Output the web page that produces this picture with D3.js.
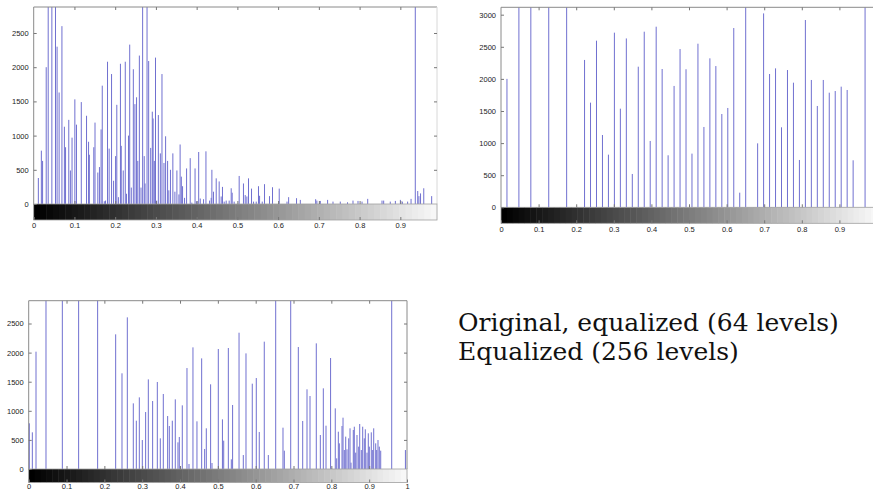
<!DOCTYPE html>
<html>
<head>
<meta charset="utf-8">
<script src="https://cdn.jsdelivr.net/npm/d3@7/dist/d3.min.js"></script>
<style>
  html, body { margin: 0; padding: 0; background: #fff; }
  svg { display: block; }
  .tick text { font-family: "Liberation Sans", Arial, sans-serif; font-size: 7.5px; fill: #222; }
  .tick line { stroke: #777; }
  .domain { display: none; }
</style>
</head>
<body>
<svg id="chart" width="873" height="491"></svg>
<script>
// ---------- DATA ----------
// Panel 1: original image histogram (gray level, pixel count)
const origLevels = [0.0114,0.0188,0.0218,0.0307,0.0356,0.0446,0.0535,0.0574,0.0624,0.0693,0.0753,0.0782,0.0861,0.0901,0.0941,0.101,0.105,0.1168,0.1297,0.1347,0.1366,0.1475,0.1505,0.1574,0.1614,0.1654,0.1683,0.1733,0.1763,0.1812,0.1852,0.1911,0.1961,0.201,0.204,0.2079,0.2129,0.2149,0.2198,0.2248,0.2277,0.2327,0.2357,0.2396,0.2446,0.2485,0.2525,0.2555,0.2594,0.2634,0.2674,0.2713,0.2733,0.2782,0.2822,0.2872,0.2911,0.2931,0.2961,0.299,0.302,0.306,0.3109,0.3149,0.3198,0.3238,0.3287,0.3317,0.3357,0.3416,0.3466,0.3515,0.3565,0.3594,0.3624,0.3654,0.3703,0.3753,0.3842,0.3882,0.3961,0.4,0.405,0.4089,0.4169,0.4228,0.4317,0.4357,0.4374,0.4413,0.448,0.4553,0.4602,0.4634,0.4676,0.4725,0.4798,0.4848,0.4872,0.4921,0.5044,0.5149,0.5192,0.5233,0.5273,0.5347,0.5397,0.5462,0.5518,0.5545,0.561,0.5666,0.5789,0.5862,0.6027,0.6218,0.6258,0.6452,0.6545,0.6921,0.6951,0.7035,0.7215,0.7347,0.7526,0.7704,0.7838,0.7961,0.806,0.8199,0.855,0.8591,0.8753,0.8878,0.9001,0.905,0.9179,0.9263,0.9367,0.9427,0.9456,0.9496,0.9575,0.9769];
const origCounts = [380,780,630,2000,3600,3600,3600,2300,1630,2600,1130,830,1230,490,970,1530,1160,1490,1290,910,720,830,1190,460,540,1090,1730,40,50,2080,810,1900,340,700,1450,100,2050,850,490,2080,150,1000,2330,240,1970,1460,1560,630,2170,240,3600,700,300,3600,2090,820,1350,1250,630,2140,50,1300,740,1900,600,990,630,200,500,740,180,490,140,870,400,260,90,520,670,20,520,40,760,80,70,770,50,90,500,180,375,330,110,250,35,50,50,230,165,35,410,300,130,110,375,225,35,35,260,120,35,290,115,245,225,35,100,85,60,70,50,45,60,35,35,25,50,45,35,75,50,50,35,45,60,35,35,75,3600,190,115,155,230,115];

// Panel 2: equalized to 64 levels (level index k of 0..63, pixel count)
const eq64Levels = [1,3,5,8,11,14,15,16,17,18,19,20,21,22,23,24,25,26,27,28,29,30,31,32,33,34,35,36,37,38,39,40,41,43,44,45,46,47,48,49,50,51,52,53,54,55,56,57,58,59,61];
const eq64Counts = [2000,3600,3600,3600,3600,2295,1630,2595,1126,820,2720,1536,2630,519,2190,2735,1033,2813,2154,810,1890,2465,2150,836,2548,1251,2320,2200,1453,1547,2792,228,3600,996,3020,2076,2164,1246,2138,1941,737,2917,1983,1578,1983,1785,1811,1879,1827,732,3600];

// Panel 3: equalized to 256 levels (gray level, pixel count)
const eq256Levels = [0.0017,0.0096,0.0193,0.0457,0.0889,0.132,0.1822,0.2299,0.2466,0.2607,0.2765,0.2845,0.2924,0.3003,0.3091,0.3162,0.3276,0.34,0.3479,0.3558,0.3673,0.3717,0.3796,0.3875,0.3946,0.3981,0.406,0.4184,0.4237,0.4342,0.4448,0.4572,0.4651,0.4695,0.4809,0.4845,0.5012,0.5121,0.5155,0.5277,0.5356,0.539,0.556,0.5673,0.5744,0.591,0.6016,0.6095,0.6227,0.6334,0.6529,0.6722,0.6757,0.6926,0.7127,0.7243,0.7357,0.7436,0.7602,0.7709,0.7788,0.7859,0.798,0.8104,0.8142,0.8185,0.8211,0.8282,0.8309,0.8343,0.838,0.8414,0.8459,0.8494,0.852,0.858,0.8607,0.8644,0.8678,0.8723,0.875,0.8792,0.8829,0.8871,0.8898,0.8943,0.8977,0.9004,0.9056,0.9093,0.912,0.9173,0.9199,0.9233,0.9268,0.9305,0.9596,0.9958];
const eq256Counts = [785,630,2016,3600,3600,3600,3600,2314,1644,2606,1128,830,1231,498,979,1540,1168,1495,527,1289,910,739,830,1197,458,550,1094,1735,86,2090,819,1901,344,699,1455,103,2062,853,487,2079,166,1100,2342,240,1987,1466,1563,636,2188,240,3600,710,315,3600,2096,825,1369,1254,2159,584,1386,744,1907,1042,183,641,441,739,882,326,556,338,527,699,109,670,727,281,584,384,773,326,727,527,682,281,613,384,630,326,699,441,326,498,384,315,3600,326];

const xTickValues = [0,0.1,0.2,0.3,0.4,0.5,0.6,0.7,0.8,0.9];
const xTickValuesFull = [0,0.1,0.2,0.3,0.4,0.5,0.6,0.7,0.8,0.9,1];
const yTicks2500 = [0,500,1000,1500,2000,2500];
const yTicks3000 = [0,500,1000,1500,2000,2500,3000];
const captionLines = ["Original, equalized (64 levels)", "Equalized (256 levels)"];
const colorbarSteps = 64;

// ---------- DRAW ----------
const svg = d3.select("#chart");
const barColor = "#7070d0";
const boxColor = "#8a8a8a";

function panel(cfg) {
  const g = svg.append("g");
  const x = d3.scaleLinear().domain([0, cfg.xmax]).range([cfg.left, cfg.right]);
  const y = d3.scaleLinear().domain([0, cfg.ymax]).range([cfg.zero, cfg.top]).clamp(true);

  // bars (stems)
  g.append("g").selectAll("line").data(cfg.xs.map((v, i) => [v, cfg.counts[i]]))
    .join("line")
    .attr("x1", d => x(d[0])).attr("x2", d => x(d[0]))
    .attr("y1", y(0)).attr("y2", d => y(d[1]))
    .attr("stroke", barColor).attr("stroke-width", 1);

  // box: left, top, right
  g.append("path")
    .attr("d", `M${cfg.left},${cfg.zero}V${cfg.top}H${cfg.right}`)
    .attr("fill", "none").attr("stroke", boxColor).attr("stroke-width", 1);
  g.append("path")
    .attr("d", `M${cfg.right},${cfg.top}V${cfg.zero}`)
    .attr("fill", "none").attr("stroke", cfg.rightColor).attr("stroke-width", 1);

  // colorbar
  const cb = g.append("g");
  const steps = d3.range(colorbarSteps);
  cb.selectAll("rect").data(steps).join("rect")
    .attr("x", i => x(cfg.xmax * i / colorbarSteps))
    .attr("width", i => x(cfg.xmax * (i + 1) / colorbarSteps) - x(cfg.xmax * i / colorbarSteps) + 0.5)
    .attr("y", cfg.zero).attr("height", cfg.cbH)
    .attr("fill", i => { const v = Math.round(255 * (i / (colorbarSteps - 1)) * 0.97); return d3.rgb(v, v, v); });
  cb.append("rect")
    .attr("x", cfg.left).attr("y", cfg.zero)
    .attr("width", cfg.right - cfg.left).attr("height", cfg.cbH)
    .attr("fill", "none").attr("stroke", "#a0a0a0").attr("stroke-width", 0.8);

  // y axis (left) with labels
  g.append("g").attr("transform", `translate(${cfg.left},0)`)
    .call(d3.axisLeft(y).tickValues(cfg.yTicks).tickSize(-3).tickPadding(5).tickFormat(d3.format("d")));
  // right ticks
  g.append("g").attr("transform", `translate(${cfg.right},0)`)
    .call(d3.axisRight(y).tickValues(cfg.yTicks.filter(v => v > 0)).tickSize(-3).tickFormat(""));
  // top ticks
  g.append("g").attr("transform", `translate(0,${cfg.top})`)
    .call(d3.axisTop(x).tickValues(cfg.xTicks.filter(v => v > 0 && v < cfg.xmax)).tickSize(-3).tickFormat(""));
  // bottom ticks on the zero line
  g.append("g").attr("transform", `translate(0,${cfg.zero})`)
    .call(d3.axisBottom(x).tickValues(cfg.xTicks.filter(v => v > 0 && v < cfg.xmax)).tickSize(-3).tickFormat(""));
  // x labels under colorbar
  g.append("g").attr("transform", `translate(0,${cfg.zero + cfg.cbH})`)
    .call(d3.axisBottom(x).tickValues(cfg.xTicks).tickSize(-3).tickPadding(cfg.labelPad).tickFormat(d3.format("")));
}

panel({ left: 33.7, right: 437, top: 7, zero: 204, cbH: 16, xmax: 0.99, ymax: 2880, labelPad: 3, rightColor: "#d8d8d8",
        xs: origLevels, counts: origCounts, yTicks: yTicks2500, xTicks: xTickValues });
panel({ left: 501, right: 877, top: 7.3, zero: 207.3, cbH: 16, xmax: 1, ymax: 3115, labelPad: 3, rightColor: boxColor,
        xs: eq64Levels.map(k => k / 63), counts: eq64Counts, yTicks: yTicks3000, xTicks: xTickValues });
panel({ left: 28.7, right: 407, top: 300.7, zero: 469, cbH: 13.5, xmax: 1, ymax: 2892, labelPad: 1, rightColor: boxColor,
        xs: eq256Levels, counts: eq256Counts, yTicks: yTicks2500, xTicks: xTickValuesFull });

// caption
svg.append("g").selectAll("text").data(captionLines).join("text")
  .attr("x", 458).attr("y", (d, i) => 331 + i * 28.5)
  .attr("font-family", "DejaVu Serif, serif").attr("font-size", 25).attr("fill", "#111")
  .text(d => d);
</script>
</body>
</html>
